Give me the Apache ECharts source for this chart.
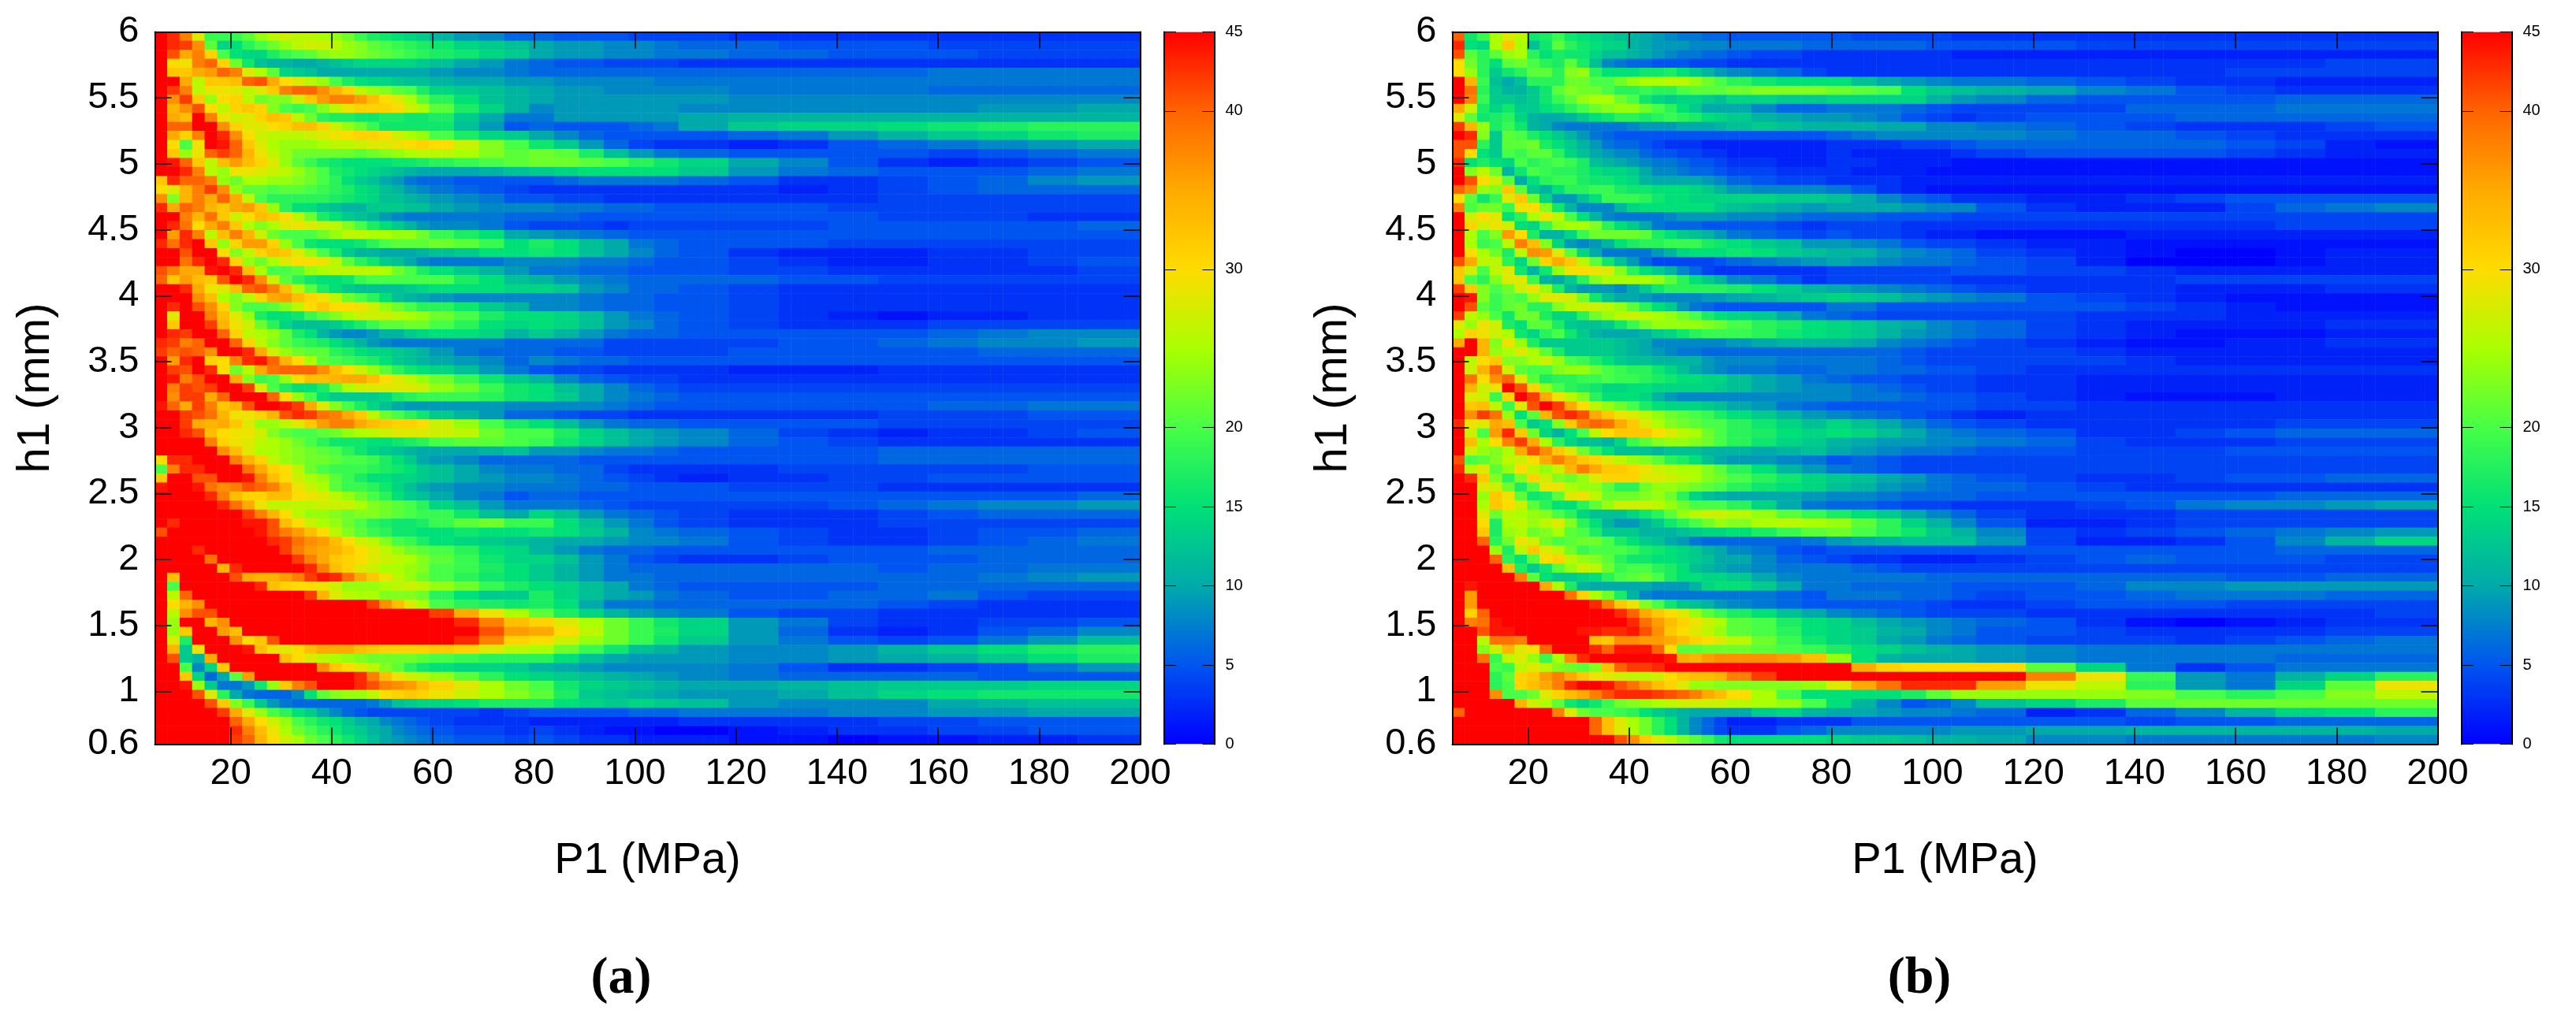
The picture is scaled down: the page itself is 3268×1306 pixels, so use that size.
<!DOCTYPE html>
<html><head><meta charset="utf-8">
<style>html,body{margin:0;padding:0;background:#fff}#c{width:3268px;height:1306px}</style>
<script src="https://cdn.jsdelivr.net/npm/echarts@6/dist/echarts.min.js"></script></head>
<body><div id="c"></div>
<script>
const colorStops=['#0000ff','#0055f0','#00aaaa','#00e078','#46ff46','#aaff00','#ffdc00','#ffaa00','#ff6400','#ff0000'];
const xTicks=[20,40,60,80,100,120,140,160,180,200];
const yTicks=[0.6,1,1.5,2,2.5,3,3.5,4,4.5,5,5.5,6];
const barTicks=[0,5,10,15,20,30,40,45];
const columnBlocks=[1,1,1,1,1,1,1,1,1,1,1,1,1,1,1,1,1,1,1,1,1,1,2,2,2,2,2,2,2,2,2,2,4,4,4,4,4,4,4,4,5];
const cellIndex=[];for(let i=0;i<79;i++)cellIndex.push(i);
const valuesA=[
[45,43,38,28,19,19,19,21,24,26,27,26,26,25,24,22,19,17,16,15,14,13,11,9,8,6,6,5,5,5,4,4,4,3,3,3,3,3,3,3,3],
[45,43,42,37,21,14,15,18,20,22,24,26,27,27,26,24,23,21,20,19,18,17,16,14,13,12,10,9,9,8,8,7,6,6,5,5,5,4,4,4,4],
[45,41,35,38,31,20,15,14,14,17,19,20,21,23,24,24,23,22,21,20,19,18,17,16,14,13,10,9,9,8,8,7,7,6,6,5,5,5,4,4,4],
[45,30,29,38,40,31,22,16,12,11,11,10,10,11,12,13,14,14,14,14,14,13,12,10,9,7,6,5,5,4,4,4,3,3,3,3,3,3,3,3,3],
[45,32,32,35,36,40,38,28,25,21,14,13,12,10,10,10,10,10,10,10,10,10,9,8,8,7,6,6,6,6,6,6,6,6,6,6,6,7,7,7,7],
[45,45,35,26,32,32,33,40,41,35,30,28,26,24,20,17,15,14,14,13,12,12,11,10,10,9,9,8,8,8,8,7,7,7,7,7,7,7,7,7,7],
[45,42,38,26,29,29,28,26,28,32,38,40,40,37,34,31,26,24,23,21,20,17,14,13,12,11,10,9,9,8,8,8,8,7,7,7,7,6,6,6,6],
[45,37,42,32,24,30,31,26,22,23,23,27,32,36,38,38,36,33,30,28,25,21,18,15,12,11,10,9,9,9,9,9,9,8,8,8,8,8,8,8,8],
[45,34,37,41,30,26,31,32,31,23,20,19,20,23,26,29,31,31,31,30,27,25,21,17,14,11,8,9,9,9,9,9,8,8,8,8,8,8,9,9,10],
[45,35,33,45,38,29,27,28,31,33,32,26,22,18,17,17,16,16,17,17,16,16,17,13,10,7,7,9,9,9,9,9,10,11,11,11,11,11,11,11,11],
[45,40,40,45,45,37,31,28,28,30,31,33,33,31,27,24,22,19,16,16,16,16,16,12,9,5,6,5,5,5,6,7,10,13,14,14,15,16,17,18,18],
[45,35,31,38,45,43,37,30,27,26,26,26,27,28,29,30,31,31,30,27,25,24,20,17,14,13,10,8,6,5,5,5,5,6,7,9,11,13,14,16,17],
[45,30,20,29,45,44,40,32,28,25,24,24,24,25,26,26,27,28,28,29,30,31,30,27,23,20,16,13,9,6,4,3,3,2,3,5,6,7,8,9,10],
[45,32,24,29,40,42,40,34,29,26,24,22,22,22,22,22,21,22,23,24,25,26,26,25,23,21,22,21,17,12,9,7,6,5,5,5,5,4,5,6,7],
[45,44,40,32,26,33,36,33,31,28,24,21,19,17,16,15,15,15,15,16,16,17,18,19,20,21,22,22,21,20,18,16,14,10,8,5,3,2,3,4,5],
[45,45,43,38,26,24,29,29,28,27,26,24,22,20,17,16,15,14,13,12,11,10,10,10,11,12,13,14,15,15,15,15,13,9,7,6,5,5,5,6,7],
[32,43,40,40,38,24,22,25,25,24,24,23,22,20,18,15,13,12,10,9,7,6,6,5,5,5,5,6,7,7,7,7,6,5,3,3,4,5,6,8,9],
[30,28,34,38,42,37,24,21,21,20,21,21,20,19,18,17,15,14,12,11,9,8,7,6,5,4,3,3,3,3,3,3,3,3,2,3,4,5,6,6,6],
[37,23,34,38,35,40,35,26,20,18,18,18,18,18,17,16,15,14,12,12,11,10,9,8,7,5,5,4,4,3,3,3,3,3,3,3,4,4,4,4,4],
[43,35,40,38,34,32,35,36,32,24,18,15,15,13,12,11,11,13,13,13,12,12,10,9,8,8,8,7,7,6,6,5,5,5,5,4,4,4,4,4,4],
[45,45,38,34,39,32,27,30,33,32,30,26,22,17,15,13,12,11,9,8,7,7,7,7,7,6,6,6,5,5,5,5,5,5,5,5,4,4,4,3,3],
[45,43,39,30,35,38,32,25,23,25,28,29,28,27,26,23,20,17,15,13,11,9,8,8,7,5,4,4,4,3,4,4,4,4,4,5,5,5,5,5,6],
[45,36,43,38,26,33,38,34,27,22,20,20,20,22,24,26,26,25,25,24,24,22,19,17,15,10,9,8,7,6,5,5,5,5,5,5,5,5,5,5,5],
[43,39,43,45,32,24,31,36,36,31,24,20,16,15,15,15,16,18,20,21,21,21,22,21,19,15,17,15,12,10,7,6,5,5,5,4,4,4,4,4,4],
[45,45,41,45,45,30,23,26,31,33,32,28,24,20,17,13,11,11,10,10,10,11,12,13,15,15,16,15,12,10,8,6,5,3,2,2,2,3,3,4,4],
[45,45,39,43,45,43,31,24,22,25,28,30,30,29,26,21,18,16,13,12,10,8,7,7,7,8,8,8,7,7,6,5,5,4,3,2,2,3,3,4,5],
[41,38,35,35,44,45,43,33,25,20,20,21,24,25,26,26,26,26,25,22,20,17,15,13,11,9,7,7,6,6,5,5,5,4,4,3,3,3,3,3,4],
[40,32,36,33,32,41,45,43,37,27,21,18,16,15,15,16,19,20,20,20,20,20,20,17,15,12,11,9,8,7,6,6,6,6,5,5,4,4,4,4,4],
[45,45,43,35,29,28,33,40,41,38,33,26,21,17,15,13,12,12,12,12,13,14,15,15,15,14,14,13,9,8,6,6,5,4,3,3,3,3,3,3,3],
[45,45,45,37,33,25,23,26,31,35,36,33,31,29,26,22,20,18,15,12,11,10,9,8,8,8,8,8,7,6,6,5,5,4,3,3,3,3,3,3,3],
[45,43,45,41,37,31,23,20,20,21,23,26,30,32,30,30,29,27,24,22,20,18,18,16,13,11,8,8,7,6,6,5,5,4,3,3,3,3,3,3,3],
[45,28,45,45,38,33,28,24,17,15,15,16,19,21,23,25,27,27,27,26,25,24,22,20,17,15,15,14,12,9,7,6,5,4,3,2,1,2,2,3,3],
[45,32,45,45,42,34,29,27,22,18,14,12,12,12,13,15,17,19,21,21,22,22,20,18,15,14,15,14,12,9,8,6,5,4,3,3,3,4,4,4,4],
[45,43,42,45,45,40,31,26,25,24,21,17,15,11,9,8,8,9,11,11,13,14,15,15,14,11,13,11,9,7,6,6,5,5,5,5,5,6,7,8,8],
[43,42,38,40,45,45,40,31,26,23,21,19,18,17,15,13,11,9,8,7,7,7,7,7,7,6,6,6,6,4,4,4,4,4,5,5,6,7,8,8,9],
[42,40,41,40,37,45,45,43,35,27,24,22,21,21,18,17,15,14,14,13,12,11,9,7,6,6,6,5,5,4,4,4,4,5,5,5,5,5,6,6,6],
[45,36,43,45,31,30,38,43,44,40,34,30,25,21,20,19,18,17,15,13,12,11,10,9,8,6,8,7,6,6,5,5,5,5,5,5,5,5,5,5,5],
[45,42,41,45,43,30,22,26,35,39,40,40,40,37,33,30,27,24,21,18,16,15,14,12,9,7,5,4,4,3,3,3,3,2,2,2,3,3,3,3,3],
[45,44,38,41,45,45,35,23,19,20,24,30,33,33,34,35,35,33,30,28,26,24,22,19,16,13,11,8,6,5,4,4,3,3,3,3,3,3,3,3,3],
[45,38,42,41,42,45,45,42,28,20,17,15,15,17,21,25,27,28,28,28,28,27,24,22,19,16,15,12,10,8,6,5,4,4,4,4,4,4,4,4,4],
[45,37,42,42,35,40,45,45,45,40,30,24,20,15,13,13,13,13,14,17,18,19,19,19,18,16,15,13,10,8,7,6,5,5,5,5,5,5,5,5,5],
[44,40,35,42,38,32,34,41,45,45,44,42,35,28,23,20,17,14,12,10,9,9,9,9,9,8,8,8,8,7,6,5,5,5,5,5,5,6,6,7,7],
[45,45,42,41,39,34,29,29,31,34,41,43,42,39,38,35,32,26,22,20,18,16,13,11,9,6,6,5,4,4,3,3,3,3,3,3,4,4,4,5,5],
[45,45,42,35,34,35,32,28,24,24,26,28,32,36,38,38,35,33,32,31,31,30,27,24,20,17,15,12,9,7,6,6,5,5,5,5,4,4,4,4,4],
[45,45,43,41,33,30,29,29,27,23,21,20,20,21,22,24,25,26,27,28,28,28,27,26,22,20,20,17,14,12,10,9,8,6,4,3,2,3,3,4,5],
[45,45,45,45,38,31,29,28,26,25,24,22,20,18,16,16,16,15,15,16,17,18,20,21,21,20,19,16,14,12,10,9,8,6,5,4,3,3,3,3,3],
[45,45,45,45,45,37,33,28,25,25,24,23,22,21,20,18,16,14,13,12,11,10,10,10,11,12,9,9,8,7,7,6,5,5,5,5,6,6,6,6,6],
[30,43,43,45,45,45,38,34,31,26,24,23,22,22,21,20,20,19,17,15,13,10,9,8,6,6,6,6,5,5,5,5,5,5,5,5,6,6,6,6,6],
[20,38,43,43,45,45,45,39,35,31,30,26,22,20,19,19,19,18,17,16,15,13,12,10,8,7,7,6,6,4,3,3,3,3,4,4,4,4,4,5,5],
[32,45,45,41,41,45,45,44,38,33,30,27,25,24,21,19,17,15,15,14,14,13,12,10,9,8,8,7,6,5,4,3,2,3,3,4,4,5,5,5,5],
[44,45,45,44,39,37,38,41,40,38,34,29,27,25,21,19,19,18,16,14,12,10,9,8,8,7,7,7,6,6,5,5,5,4,4,4,3,3,3,3,3],
[45,45,45,45,43,38,33,31,31,33,33,30,29,28,26,24,22,20,18,15,13,12,10,8,7,5,6,6,5,5,5,5,5,5,5,5,5,5,5,5,6],
[45,45,45,45,45,43,39,35,29,26,26,26,26,27,27,27,25,23,22,21,20,18,14,12,9,7,7,7,6,5,4,4,4,4,4,5,6,7,8,8,9],
[45,45,45,45,45,45,45,42,38,34,30,26,24,24,23,22,23,23,22,21,20,19,19,16,12,10,14,12,9,7,6,5,4,3,3,3,4,5,6,6,6],
[45,43,45,45,45,45,45,44,44,41,33,30,27,25,24,22,20,18,17,16,16,17,19,21,22,19,19,15,12,9,7,5,4,3,3,3,4,4,4,4,4],
[41,45,45,45,45,45,45,45,44,41,38,36,33,30,26,23,21,19,18,16,16,15,15,16,15,15,16,15,13,11,8,7,6,5,4,3,3,4,5,5,6],
[45,45,45,45,45,45,45,45,45,43,42,39,37,36,33,30,27,26,23,20,19,17,15,14,13,12,11,10,10,9,8,8,7,5,4,3,3,4,5,6,7],
[45,45,45,43,45,45,45,45,45,45,42,38,36,35,34,32,30,28,26,24,22,21,20,18,15,14,11,9,7,6,6,5,5,5,5,5,5,6,6,6,6],
[45,45,45,45,39,45,45,45,45,45,45,42,38,35,32,31,30,28,27,26,25,23,21,19,16,14,14,12,9,7,5,4,3,3,4,5,5,5,6,6,6],
[45,45,45,45,45,34,43,45,45,45,45,45,43,38,33,31,28,27,25,25,24,23,20,19,17,15,13,11,9,7,6,6,6,6,6,6,5,6,6,7,7],
[45,33,45,45,45,45,41,35,34,34,36,38,42,44,43,39,35,32,29,26,24,22,20,18,16,15,13,11,9,7,7,6,6,6,6,6,6,6,7,8,9],
[45,20,45,45,45,45,45,45,43,33,31,30,30,29,27,24,24,24,25,26,27,26,24,22,19,17,15,14,12,10,7,6,5,5,5,5,6,6,6,6,6],
[45,26,40,45,45,45,45,45,45,45,45,45,42,34,28,26,25,25,23,23,23,22,18,15,13,13,17,14,12,10,9,7,6,5,5,6,6,7,5,4,4],
[45,30,34,37,45,45,45,45,45,45,45,45,45,45,45,45,45,42,37,33,28,25,20,18,17,16,17,15,10,7,7,6,6,6,6,6,5,4,3,3,3],
[45,26,37,41,41,45,45,45,45,45,45,45,45,45,45,45,45,45,45,45,45,45,42,35,29,25,21,17,14,11,9,8,7,5,4,4,3,3,3,3,3],
[45,24,45,45,34,37,45,45,45,45,45,45,45,45,45,45,45,45,45,45,45,45,45,43,38,33,31,28,25,22,19,16,14,9,7,4,3,3,4,4,5],
[45,24,32,45,45,36,33,45,45,45,45,45,45,45,45,45,45,45,45,45,45,45,45,45,41,36,35,30,26,22,19,17,14,9,6,3,2,3,5,6,8],
[45,28,17,45,45,45,37,30,32,41,45,45,45,45,45,45,45,45,45,45,45,45,45,43,38,31,30,27,24,22,19,16,13,9,7,5,4,5,7,9,12],
[45,34,13,29,45,45,45,44,33,29,28,30,33,35,35,35,33,32,31,31,31,31,32,31,28,26,25,22,19,16,12,11,9,8,8,9,11,13,15,17,18],
[45,41,13,11,35,45,45,45,45,45,33,30,28,26,25,24,23,22,22,22,22,21,20,19,18,18,18,15,12,10,9,9,9,8,8,9,10,11,13,15,17],
[45,45,20,8,14,32,45,45,45,45,45,45,45,37,32,30,28,26,23,21,18,16,15,14,14,13,11,10,9,8,8,8,8,7,5,3,3,4,5,7,9],
[45,45,32,14,6,10,21,36,45,45,45,45,45,45,45,45,43,38,33,29,27,26,24,21,18,15,14,13,12,11,10,9,8,7,6,6,6,6,5,5,5],
[45,45,44,24,13,7,7,9,16,24,32,38,41,45,45,45,43,41,38,37,36,33,31,28,25,22,20,16,14,13,12,11,10,10,11,12,13,13,13,14,14],
[45,45,45,41,28,18,10,7,6,6,6,8,15,21,23,24,24,26,30,31,32,31,29,27,25,23,21,17,13,12,11,10,9,9,10,12,14,15,16,16,16],
[45,45,45,45,41,32,23,19,13,9,7,6,6,6,6,6,6,7,9,12,13,14,14,15,17,17,17,15,14,13,14,13,12,9,8,8,8,10,11,12,12],
[45,45,45,45,45,42,35,28,24,20,18,15,13,10,8,6,5,4,4,4,4,4,4,4,3,4,5,5,5,5,6,6,7,7,7,8,8,9,9,10,10],
[45,45,45,45,45,45,40,35,30,27,24,20,18,16,15,13,11,10,8,7,6,5,4,3,3,3,2,2,2,2,2,2,3,3,3,3,4,4,5,5,5],
[45,45,45,45,45,45,43,38,33,29,25,22,20,18,16,14,13,11,10,8,7,6,5,4,4,3,4,3,2,1,1,0,0,1,2,3,3,4,4,5,5],
[45,45,45,45,45,45,42,40,34,30,27,25,22,20,18,16,14,12,10,9,8,7,6,5,5,4,5,4,3,3,2,2,2,1,1,0,1,1,2,2,3]
];
const valuesB=[
[40,16,19,25,28,26,16,17,19,16,15,14,13,12,11,10,9,8,7,7,6,6,5,5,5,5,5,4,4,4,4,3,3,3,3,3,3,3,3,3,3],
[43,15,14,25,32,25,12,16,21,18,16,15,14,14,11,10,9,9,9,8,8,8,7,7,7,6,6,6,6,6,5,5,5,5,4,4,4,4,4,4,4],
[41,21,18,21,24,25,18,15,17,16,16,14,12,12,11,10,9,8,7,7,6,6,5,4,4,3,3,3,3,3,3,2,2,2,2,2,2,2,2,2,2],
[30,22,18,15,21,22,20,18,17,21,17,12,8,7,6,6,5,5,5,4,4,4,3,3,3,3,3,3,3,3,3,3,3,3,3,3,3,3,3,4,4],
[30,24,18,13,16,18,21,21,18,23,24,18,15,15,15,16,16,17,15,13,11,9,8,7,6,4,3,3,3,3,3,3,3,3,3,3,3,4,4,4,4],
[45,34,19,12,10,12,18,18,18,22,22,20,20,22,24,25,25,26,26,24,22,20,18,16,15,15,15,12,10,9,8,7,7,6,5,4,3,3,2,2,2],
[45,39,18,13,11,11,13,16,21,23,22,22,20,18,18,19,18,18,20,21,21,21,22,23,23,23,22,21,20,15,13,12,11,10,8,7,5,4,3,3,3],
[45,38,19,13,13,12,13,16,19,21,24,25,25,22,20,16,14,13,14,14,13,12,14,14,13,13,14,14,14,14,11,9,8,6,5,5,5,5,6,6,6],
[35,27,17,14,16,13,13,15,16,18,20,22,23,24,24,22,20,18,15,13,10,10,10,8,6,6,7,7,7,6,5,4,4,4,4,6,6,6,7,7,7],
[28,21,16,17,18,14,11,10,10,11,13,15,16,18,18,17,18,19,18,17,15,14,13,11,10,9,9,8,7,5,4,3,4,5,5,5,6,6,6,6,6],
[42,34,24,17,19,16,11,10,8,7,7,7,7,7,8,9,9,9,10,10,10,11,12,13,12,11,11,11,10,10,8,8,7,6,5,4,3,3,3,4,5],
[45,43,23,13,21,20,17,15,13,11,9,7,6,5,5,5,5,5,5,5,5,5,5,5,5,5,6,7,8,8,8,8,8,7,6,6,5,4,3,3,3],
[41,41,18,13,21,21,22,17,15,13,11,9,7,6,6,5,4,3,3,3,2,2,2,2,2,2,3,3,3,4,4,5,6,6,6,6,6,5,4,2,1],
[41,30,15,13,20,19,21,21,18,14,12,10,9,8,8,6,5,5,4,4,3,3,2,2,2,2,3,2,2,2,2,3,4,5,5,5,5,4,3,2,2],
[43,15,17,15,14,20,18,19,20,19,17,12,11,10,9,8,7,7,6,5,5,4,3,3,2,2,3,3,2,2,2,1,1,1,1,1,1,1,1,1,1],
[45,23,26,22,11,16,20,19,18,18,17,15,14,14,13,10,8,8,7,6,6,5,4,4,3,3,3,2,2,2,1,1,1,1,1,1,1,1,1,1,1],
[45,41,30,27,21,10,15,18,19,19,17,16,16,15,14,11,10,10,10,10,9,8,6,5,4,4,3,3,3,2,2,2,2,2,2,2,2,2,2,2,2],
[40,37,24,23,32,21,13,11,15,18,18,19,19,17,16,16,15,15,15,14,13,11,9,8,8,8,7,5,3,2,1,1,1,1,1,1,1,1,1,1,1],
[30,21,16,19,28,32,22,14,9,9,12,15,19,19,19,18,16,15,15,14,14,14,14,14,13,13,12,10,8,6,5,3,3,2,2,3,4,5,5,5,5],
[38,20,22,22,19,29,30,23,16,11,8,8,8,11,14,15,15,15,15,15,15,13,12,11,10,9,10,10,10,9,8,8,5,3,2,2,2,4,6,7,8],
[45,27,30,28,15,18,25,29,26,20,15,11,8,7,7,7,7,8,9,9,9,9,8,8,7,6,6,6,5,5,5,4,4,4,4,4,4,4,4,4,4],
[45,31,27,29,27,15,14,19,24,25,25,23,18,15,13,10,7,6,6,6,5,5,5,5,4,3,4,4,4,3,3,3,3,3,3,3,3,3,4,4,4],
[45,25,20,23,36,30,17,11,11,14,19,22,22,22,22,21,17,15,13,12,11,9,7,6,5,4,5,4,4,3,2,2,1,1,1,2,2,2,2,2,2],
[45,25,19,20,26,38,33,23,14,9,8,9,11,15,17,18,18,19,19,19,17,16,15,13,12,9,9,8,7,5,4,4,3,2,2,1,1,1,1,1,1],
[45,30,25,22,17,26,37,36,28,21,14,10,7,7,7,7,9,11,14,15,15,15,16,15,13,12,11,11,9,8,7,6,4,3,2,1,0,0,1,2,2],
[41,35,26,26,18,14,22,31,35,32,26,21,16,12,9,6,4,4,4,4,4,5,6,7,8,9,10,9,8,7,7,6,5,4,2,0,0,0,1,2,2],
[32,27,20,26,28,16,11,16,24,29,30,29,28,23,18,15,13,11,8,6,4,3,3,3,3,3,4,4,4,4,4,5,5,4,4,3,2,2,2,2,2],
[32,20,18,23,28,28,19,11,10,13,18,23,25,25,25,25,24,21,18,15,13,11,8,7,5,3,4,4,4,4,4,3,3,3,3,3,4,4,4,4,4],
[42,32,23,20,22,27,29,24,17,11,9,9,9,8,10,13,16,18,18,18,18,18,17,15,13,11,10,9,8,7,6,5,4,3,3,3,2,2,2,3,3],
[45,44,23,19,21,20,24,28,28,27,22,16,12,10,10,9,8,8,8,8,9,9,10,11,12,13,14,13,12,10,9,8,7,5,4,3,2,1,1,1,1],
[45,41,21,19,21,22,18,18,23,26,27,27,26,24,21,18,15,13,9,7,6,5,5,5,5,5,7,7,5,5,5,5,5,5,5,4,3,2,1,1,1],
[42,26,24,20,16,22,22,17,14,14,18,22,24,26,27,26,25,24,22,20,17,15,14,13,10,7,6,5,4,4,4,4,4,4,3,3,3,2,2,2,2],
[28,24,29,27,17,15,21,21,17,13,12,12,13,16,19,22,24,24,24,24,23,22,20,18,17,15,14,13,11,10,8,7,6,4,3,2,2,2,2,3,3],
[25,31,29,27,25,16,14,18,20,16,13,11,10,10,10,11,13,14,16,18,19,19,19,18,16,15,14,13,11,9,8,7,6,4,3,2,1,1,1,2,2],
[35,45,34,23,29,24,17,13,13,13,13,13,13,12,11,10,8,8,8,8,8,8,9,10,11,11,11,10,8,7,6,5,4,3,2,1,1,2,2,3,3],
[45,45,34,24,25,28,25,21,17,13,13,13,13,12,11,10,9,8,7,7,6,6,6,6,6,6,6,6,6,5,4,4,4,4,3,2,2,2,2,2,2],
[45,26,30,32,23,23,25,27,24,20,19,17,15,13,12,12,11,11,11,11,9,8,8,8,7,7,7,7,6,5,4,4,4,4,4,3,2,2,2,2,2],
[45,27,34,40,27,21,20,20,23,24,24,22,20,19,18,18,16,14,12,10,9,8,7,7,6,6,7,7,6,6,5,5,4,3,3,3,3,3,3,3,3],
[45,39,30,37,40,28,21,17,18,18,19,19,20,19,19,18,17,16,15,15,14,14,12,10,9,7,6,5,5,4,4,4,3,3,2,2,2,2,2,2,2],
[45,34,27,29,45,41,31,24,20,18,17,16,14,14,15,15,14,14,14,14,14,13,12,10,9,8,8,7,6,5,4,4,3,3,2,2,2,2,2,2,2],
[45,28,27,19,31,45,42,35,29,26,23,18,15,15,15,14,11,9,8,8,8,8,8,8,8,8,8,7,7,6,5,5,4,3,2,1,1,1,2,2,2],
[45,32,33,26,19,28,41,45,42,35,30,26,24,22,20,17,15,14,14,14,13,12,10,9,7,6,5,5,5,5,5,5,4,4,3,3,3,3,3,3,3],
[45,37,42,39,24,15,21,34,41,43,41,35,32,29,28,26,24,22,21,20,19,17,15,13,11,9,8,7,6,5,4,3,2,3,3,3,3,3,3,3,3],
[43,29,28,35,33,20,13,15,23,32,38,40,39,35,32,28,25,23,22,21,20,20,18,16,14,12,14,12,10,8,6,5,4,3,3,3,3,3,4,4,4],
[45,27,20,36,43,32,22,14,11,15,20,26,30,32,32,32,30,28,26,25,22,20,18,17,15,14,15,14,12,10,8,7,6,5,3,3,4,5,6,6,6],
[45,33,25,30,38,42,35,25,18,14,12,12,11,14,19,21,23,24,24,23,22,20,18,16,14,13,11,10,9,9,8,8,7,6,4,3,3,3,4,4,4],
[45,27,24,23,25,35,41,37,32,28,22,18,15,12,12,12,11,12,12,12,11,11,11,10,11,12,10,9,8,7,7,6,5,5,4,4,4,5,5,5,5],
[41,20,21,23,26,27,30,35,38,35,32,31,28,26,24,23,21,18,17,15,12,10,9,9,8,7,5,6,5,4,4,4,4,4,4,4,4,4,4,4,4],
[43,26,28,21,24,30,26,24,27,34,38,35,32,32,31,29,27,26,25,25,23,21,18,15,11,9,7,6,5,4,4,4,4,4,4,4,4,4,4,4,4],
[45,43,32,23,18,23,31,27,23,22,24,28,31,31,31,28,28,27,26,25,23,22,20,18,16,14,13,12,10,9,7,6,5,4,3,3,4,5,5,6,6],
[45,45,28,27,22,17,21,29,29,25,24,24,21,18,18,22,24,24,23,22,21,20,18,16,15,14,12,11,9,8,7,6,6,5,4,3,3,3,3,3,3],
[45,45,24,32,29,21,16,17,21,28,29,26,22,22,22,23,24,22,18,14,12,11,10,10,10,9,8,8,7,6,6,6,5,5,5,5,5,5,6,6,6],
[45,45,25,32,30,27,21,18,15,15,18,21,24,27,27,27,26,24,22,20,20,20,18,14,10,7,6,6,5,4,4,3,3,3,4,5,7,8,8,9,10],
[45,45,28,22,26,25,24,23,20,18,14,12,12,12,14,16,18,21,24,26,27,27,26,24,21,19,17,15,13,10,8,6,4,3,3,3,4,4,4,4,4],
[45,45,30,17,25,26,24,26,28,23,18,15,11,9,9,11,13,16,18,20,22,24,23,25,26,25,24,21,18,14,11,8,5,2,2,3,4,4,4,4,4],
[45,45,32,17,24,25,22,23,25,21,20,17,13,13,13,11,11,11,12,13,14,14,15,17,19,21,22,20,18,16,13,11,8,4,3,4,5,6,7,8,9],
[45,45,40,18,22,29,27,22,20,21,22,22,20,17,15,13,12,10,9,7,6,6,6,6,6,7,9,10,11,12,12,12,9,4,2,2,3,5,8,11,14],
[45,45,45,24,17,26,32,28,26,22,19,20,20,20,19,17,16,15,14,13,11,10,8,7,5,4,5,5,5,5,5,5,5,5,5,5,5,5,6,6,6],
[45,45,45,40,18,15,21,30,31,26,24,23,21,18,16,16,15,15,14,13,12,10,10,8,6,5,4,3,3,2,2,2,3,4,5,6,5,5,5,4,4],
[45,45,45,45,33,17,13,16,21,24,27,26,22,19,20,20,18,17,15,12,11,10,9,8,7,7,7,6,5,4,4,4,4,4,4,4,4,4,4,4,4],
[45,45,45,45,45,38,21,15,13,13,14,15,18,20,21,22,20,17,15,15,14,14,13,10,8,7,7,7,7,7,6,6,6,6,6,6,6,5,5,6,6],
[45,44,45,45,45,45,45,35,25,17,11,10,10,10,10,10,9,9,9,11,14,15,15,13,10,7,7,6,6,6,6,5,5,5,6,8,8,9,9,9,9],
[45,36,45,45,45,45,45,45,45,39,31,25,22,17,11,8,7,7,7,7,7,7,7,7,6,5,7,7,7,6,6,5,4,5,5,6,7,7,7,6,6],
[45,36,45,45,45,45,45,45,45,45,45,43,38,32,29,23,20,16,13,12,11,9,8,7,6,5,5,5,5,5,4,3,3,4,5,5,5,4,4,4,4],
[45,31,40,45,45,45,45,45,45,45,45,45,45,43,40,35,32,30,28,24,21,19,17,15,12,10,8,7,6,5,4,4,4,3,3,3,3,3,3,3,4],
[45,38,39,44,45,45,45,45,45,45,45,45,45,45,43,39,36,33,31,29,27,25,21,20,17,15,14,12,10,9,8,7,6,5,3,1,0,1,2,3,3],
[45,45,41,44,44,45,45,45,45,45,44,44,43,43,44,41,37,32,30,28,26,24,21,20,18,15,14,13,11,10,8,7,5,5,4,3,3,3,3,4,4],
[45,45,26,39,39,38,45,45,45,45,45,33,32,37,37,36,36,35,33,31,30,28,26,22,19,16,14,13,10,9,7,6,5,4,4,4,3,4,5,6,7],
[45,45,23,27,34,28,30,40,45,45,45,43,40,44,44,44,40,30,21,21,22,22,22,21,20,19,17,15,14,12,11,10,9,8,7,7,7,7,7,7,7],
[45,45,39,19,26,28,24,19,25,37,43,45,45,45,45,45,45,44,35,34,36,37,37,37,36,33,24,15,11,10,10,10,9,8,7,7,7,7,6,6,6],
[45,45,45,20,19,26,28,26,23,22,21,23,33,40,42,42,43,45,45,45,45,45,45,45,45,45,45,35,31,30,30,30,30,21,14,7,3,5,7,7,7],
[45,45,45,18,21,31,32,36,38,35,32,29,28,27,26,26,27,30,32,33,33,34,38,42,45,45,45,45,45,45,45,45,45,38,29,19,9,7,11,14,18],
[45,45,45,18,20,31,33,35,38,43,45,45,44,41,39,36,33,31,28,24,24,23,23,23,23,24,28,35,39,43,43,43,36,29,26,18,9,7,14,21,29],
[45,45,45,37,20,20,22,28,31,33,35,38,41,43,43,43,42,41,40,38,35,33,30,25,20,15,15,15,15,17,21,24,24,24,24,23,20,18,20,23,26],
[45,45,45,45,45,34,27,25,21,16,14,16,19,22,23,24,25,26,27,27,27,27,26,25,24,20,15,11,8,5,6,8,12,14,17,21,22,22,22,22,22],
[40,45,45,45,45,45,45,45,38,28,22,20,20,19,18,15,13,12,11,10,10,10,10,13,14,11,10,10,9,8,8,7,6,2,3,6,8,11,14,15,18],
[45,45,45,45,45,45,45,45,45,45,45,40,33,28,25,22,18,15,11,8,6,4,2,2,3,3,3,5,5,5,5,5,5,5,5,4,5,5,6,6,6],
[45,45,45,45,45,45,45,45,45,45,45,40,33,28,25,22,18,15,11,8,6,4,3,3,5,6,8,8,8,8,8,9,9,10,10,11,11,11,11,11,10],
[45,45,45,45,45,45,45,45,45,45,45,45,45,41,37,32,28,26,23,21,19,16,15,15,15,15,14,13,13,12,11,11,10,8,8,7,7,7,7,7,8]
];
const panelValues=[valuesA,valuesB];
const panels=[196.5,1842.5];
const names=['a','b'];
const titleX=[783,2430];
const font='"Liberation Sans"';
const chart=echarts.init(document.getElementById('c'));
const grid=[],xAxis=[],yAxis=[],visualMap=[],series=[],title=[];
function ax(gi,pos,min,max,vals,extra){return Object.assign({type:'value',gridIndex:gi,position:pos,min,max,z:10,
 axisLine:{show:true,onZero:false,lineStyle:{color:'#000',width:2}},splitLine:{show:false},
 axisTick:{show:true,inside:true,length:21,customValues:vals,lineStyle:{color:'#000',width:1.5}},
 axisLabel:{show:false,customValues:vals}},extra||{});}
function cells(rows){const out=[];rows.forEach((row,r)=>{let k=0;row.forEach((v,s)=>{for(let n=0;n<columnBlocks[s];n++){out.push([k,r,v]);k++;}});});return out;}
panels.forEach((L,i)=>{
 const gi=grid.length;
 grid.push({left:L,top:40.5,width:1250,height:904});
 const xi=xAxis.length,yi=yAxis.length;
 xAxis.push({type:'category',gridIndex:gi,data:cellIndex,show:false});
 yAxis.push({type:'category',gridIndex:gi,data:cellIndex,inverse:true,show:false});
 xAxis.push(ax(gi,'bottom',5,200,xTicks,{name:'P1 (MPa)',nameLocation:'middle',nameGap:120,nameTextStyle:{fontFamily:font,fontSize:56,color:'#000'},axisLabel:{show:true,customValues:xTicks,fontFamily:font,fontSize:47,color:'#000',margin:14}}));
 xAxis.push(ax(gi,'top',5,200,xTicks));
 yAxis.push(ax(gi,'left',0.6,6,yTicks,{name:'h1 (mm)',nameLocation:'middle',nameGap:122,nameRotate:90,nameTextStyle:{fontFamily:font,fontSize:58,color:'#000'},axisLabel:{show:true,customValues:yTicks,fontFamily:font,fontSize:47,color:'#000',margin:20}}));
 yAxis.push(ax(gi,'right',0.6,6,yTicks));
 series.push({type:'heatmap',xAxisIndex:xi,yAxisIndex:yi,data:cells(panelValues[i]),progressive:0,animation:false,emphasis:{disabled:true}});
 const bi=grid.length;
 grid.push({left:L+1280.5,top:40.5,width:63.5,height:904});
 xAxis.push({type:'value',gridIndex:bi,min:0,max:1,show:false});
 const t=(p,lab)=>ax(bi,p,0,45,barTicks,{axisLine:{show:true,onZero:false,lineStyle:{color:'#000',width:2}},axisTick:{show:true,inside:true,length:15,customValues:barTicks,lineStyle:{color:'#000',width:1}},axisLabel:{show:lab,customValues:barTicks,fontFamily:font,fontSize:20,color:'#000',margin:14}});
 yAxis.push(t('left',false));yAxis.push(t('right',true));
 visualMap.push({type:'continuous',seriesIndex:i,min:0,max:45,left:L+1280.5,top:40.5,padding:0,itemWidth:63.5,itemHeight:904,calculable:false,realtime:false,inRange:{color:colorStops}});
 title.push({text:'{p|(}{b|'+names[i]+'}{p|)}',left:titleX[i],top:1205,textAlign:'center',textStyle:{rich:{p:{fontFamily:'"Liberation Serif"',fontSize:66,color:'#000'},b:{fontFamily:'"Liberation Serif"',fontWeight:'bold',fontSize:66,color:'#000'}}}});
});
chart.setOption({animation:false,backgroundColor:'#fff',grid,xAxis,yAxis,visualMap,series,title});
</script></body></html>
